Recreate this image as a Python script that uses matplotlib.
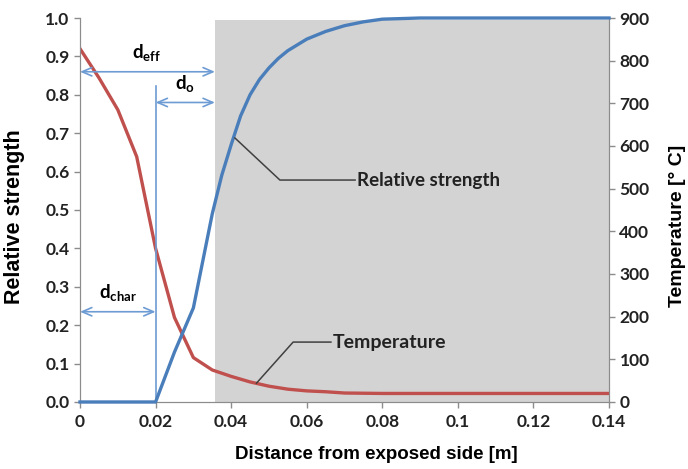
import matplotlib.pyplot as plt

plt.rcParams['font.family'] = ['Lato', 'DejaVu Sans']

# distance from exposed side [m]
dist_strength = [0, 0.005, 0.01, 0.015, 0.02, 0.025, 0.03, 0.035, 0.0375, 0.04, 0.0425,
                 0.045, 0.0475, 0.05, 0.0525, 0.055, 0.0575, 0.06, 0.065, 0.07, 0.075,
                 0.08, 0.09, 0.10, 0.12, 0.14]
rel_strength = [0, 0, 0, 0, 0, 0.13, 0.245, 0.49, 0.59, 0.67, 0.745,
                0.80, 0.84, 0.87, 0.895, 0.915, 0.93, 0.945, 0.965, 0.98, 0.99,
                0.997, 1.0, 1.0, 1.0, 1.0]

dist_temp = [0, 0.005, 0.01, 0.015, 0.02, 0.025, 0.03, 0.035, 0.04, 0.045, 0.05,
             0.055, 0.06, 0.065, 0.07, 0.08, 0.10, 0.12, 0.14]
temperature = [828, 760, 685, 575, 360, 198, 104, 75, 60, 47, 37,
               30, 26, 24, 21, 20, 20, 20, 20]

x_ticks = [0, 0.02, 0.04, 0.06, 0.08, 0.1, 0.12, 0.14]
x_tick_labels = ['0', '0.02', '0.04', '0.06', '0.08', '0.1', '0.12', '0.14']
y_ticks = [0.0, 0.1, 0.2, 0.3, 0.4, 0.5, 0.6, 0.7, 0.8, 0.9, 1.0]
t_ticks = [0, 100, 200, 300, 400, 500, 600, 700, 800, 900]

d_char = 0.02
d_eff = 0.0357

blue = '#4a7ebb'
red = '#c0504d'
arrow_c = '#6d9bd3'
spine_c = '#8c8c8c'

fig = plt.figure(figsize=(6.88, 4.69), dpi=100)
ax = fig.add_axes([0.1163, 0.1429, 0.7689, 0.8187])
ax2 = ax.twinx()

ax.set_zorder(ax2.get_zorder() + 1)
ax.patch.set_visible(False)

# shaded residual cross section
ax2.axvspan(d_eff, 0.14, ymin=0, ymax=0.995, color='#d3d3d3', lw=0, zorder=0)

ax2.plot(dist_temp, temperature, color=red, lw=2.4, zorder=3)
ax.plot(dist_strength, rel_strength, color=blue, lw=2.4, zorder=3, clip_on=False)

ax.set_xlim(0, 0.14)
ax.set_ylim(0, 1.0)
ax2.set_ylim(0, 900)

ax.set_xticks(x_ticks)
ax.set_xticklabels(x_tick_labels)
ax.set_yticks(y_ticks)
ax.set_yticklabels(['%.1f' % v for v in y_ticks])
ax2.set_yticks(t_ticks)

for a in (ax, ax2):
    a.spines['top'].set_visible(False)
    for s in ('left', 'right', 'bottom'):
        a.spines[s].set_color(spine_c)
    a.tick_params(colors=spine_c, labelcolor='#222222', length=4, width=1,
                  labelsize=12.5, direction='out')
    for lab in a.get_xticklabels() + a.get_yticklabels():
        lab.set_fontweight('bold')
ax.tick_params(axis='x', pad=5)

lab_font = ['Liberation Sans', 'DejaVu Sans']
ax.set_xlabel('Distance from exposed side [m]', fontsize=13.5, fontweight='bold', family=lab_font)
ax.set_ylabel('Relative strength', fontsize=15.5, fontweight='bold', family=lab_font)
ax2.set_ylabel('Temperature [° C]', fontsize=14, fontweight='bold', family=lab_font)
ax.xaxis.set_label_coords(0.56, -0.138)
ax.yaxis.set_label_coords(-0.124, 0.484)
ax2.yaxis.set_label_coords(1.129, 0.458)
ax.xaxis.label.set_va('center')
ax.yaxis.label.set_va('center')
ax2.yaxis.label.set_va('center')

# dimension arrows
ax.plot([d_char, d_char], [0, 0.823], color=arrow_c, lw=1.2, zorder=2)
arrow_kw = dict(arrowstyle='<->,head_length=0.7,head_width=0.3', color=arrow_c, lw=1.2,
                shrinkA=0, shrinkB=0)
ax.annotate('', xy=(0, 0.86), xytext=(d_eff, 0.86), arrowprops=arrow_kw)
ax.annotate('', xy=(d_char, 0.78), xytext=(d_eff, 0.78), arrowprops=arrow_kw)
ax.annotate('', xy=(0, 0.235), xytext=(d_char, 0.235), arrowprops=arrow_kw)

ax.text(0.0175, 0.88, r'd$_{\mathregular{eff}}$', fontsize=13.5, fontweight='bold', ha='center', va='bottom')
ax.text(0.0278, 0.80, r'd$_{\mathregular{o}}$', fontsize=13.5, fontweight='bold', ha='center', va='bottom')
ax.text(0.01, 0.255, r'd$_{\mathregular{char}}$', fontsize=13.5, fontweight='bold', ha='center', va='bottom')

# series labels with leader lines
ax.plot([0.041, 0.0529, 0.0728], [0.6875, 0.578, 0.578], color='#404040', lw=1.1, zorder=4)
ax.text(0.0733, 0.578, 'Relative strength', fontsize=13.5, fontweight='bold', va='center', color='#222222')
ax.plot([0.0467, 0.0564, 0.0664], [0.049, 0.156, 0.156], color='#404040', lw=1.1, zorder=4)
ax.text(0.0668, 0.156, 'Temperature', fontsize=14, fontweight='bold', va='center', color='#222222')

fig.savefig('out.png', dpi=100)
